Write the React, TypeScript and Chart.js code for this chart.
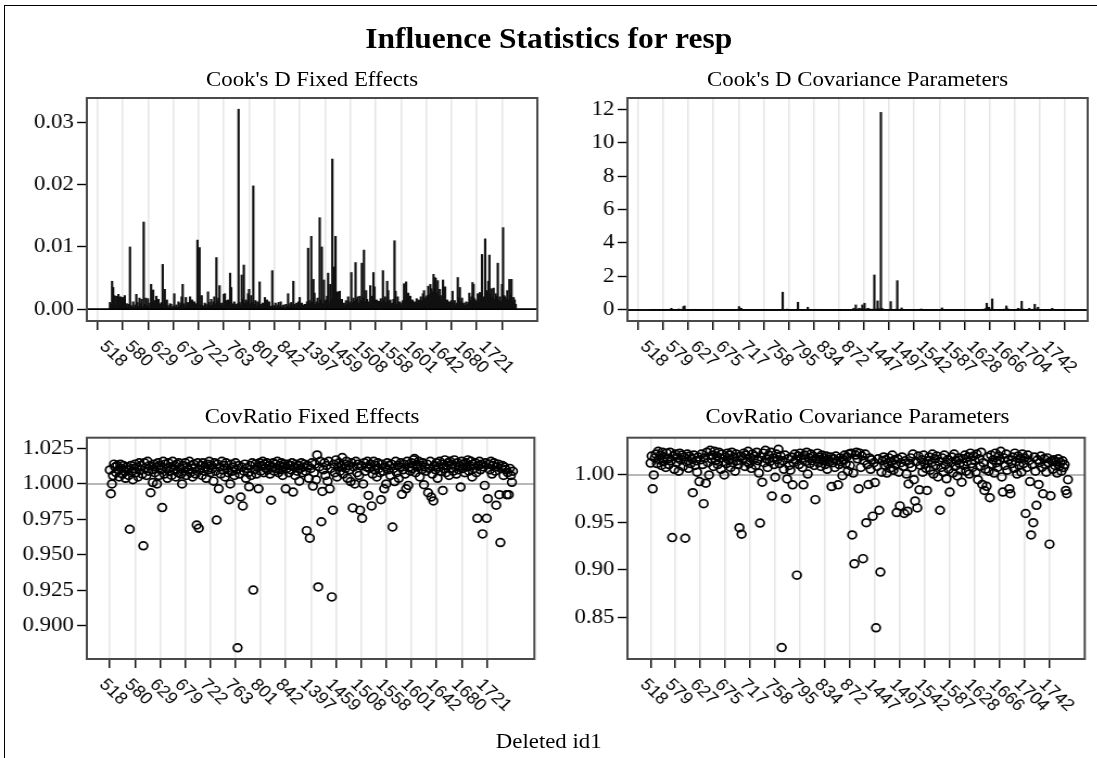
import React, { useEffect, useRef } from 'react';
import { Chart, registerables } from 'chart.js';
Chart.register(...registerables);

// ---------------- data (observation order, 386 deleted observations) ----------------
const COOKD_FIXED = [
  0.0011,0.0009,0.0045,0.0035,0.0022,0.0006,0.0021,0.0004,0.0024,0.0012,0.0020,0.0007,0.0019,0.0010,0.0022,0.0005,0.0009,0.0003,0.0008,0.0100,0.0006,0.0004,0.0012,0.0003,
  0.0007,0.0024,0.0011,0.0005,0.0018,0.0009,0.0016,0.0004,0.0140,0.0008,0.0018,0.0006,0.0017,0.0003,0.0010,0.0040,0.0012,0.0031,0.0007,0.0014,0.0021,0.0005,0.0016,0.0009,
  0.0004,0.0011,0.0072,0.0008,0.0032,0.0013,0.0015,0.0006,0.0003,0.0009,0.0008,0.0002,0.0005,0.0025,0.0004,0.0007,0.0003,0.0012,0.0006,0.0010,0.0020,0.0040,0.0009,0.0004,
  0.0019,0.0006,0.0011,0.0003,0.0020,0.0008,0.0015,0.0005,0.0012,0.0009,0.0004,0.0111,0.0010,0.0099,0.0007,0.0022,0.0006,0.0004,0.0010,0.0008,0.0005,0.0028,0.0011,0.0006,
  0.0016,0.0007,0.0012,0.0020,0.0009,0.0083,0.0013,0.0018,0.0038,0.0007,0.0010,0.0005,0.0024,0.0025,0.0008,0.0014,0.0015,0.0010,0.0058,0.0035,0.0009,0.0006,0.0012,0.0008,
  0.0005,0.0009,0.0321,0.0011,0.0007,0.0055,0.0016,0.0071,0.0010,0.0015,0.0012,0.0025,0.0032,0.0009,0.0022,0.0011,0.0198,0.0008,0.0014,0.0006,0.0012,0.0009,0.0044,0.0005,
  0.0008,0.0010,0.0004,0.0019,0.0006,0.0015,0.0007,0.0012,0.0003,0.0005,0.0062,0.0004,0.0006,0.0010,0.0003,0.0007,0.0011,0.0005,0.0012,0.0003,0.0006,0.0007,0.0002,0.0008,
  0.0005,0.0025,0.0004,0.0009,0.0011,0.0006,0.0045,0.0008,0.0003,0.0010,0.0006,0.0012,0.0019,0.0005,0.0010,0.0004,0.0007,0.0008,0.0006,0.0012,0.0098,0.0014,0.0009,0.0117,
  0.0011,0.0048,0.0026,0.0008,0.0012,0.0018,0.0010,0.0147,0.0015,0.0100,0.0009,0.0047,0.0013,0.0015,0.0021,0.0058,0.0011,0.0040,0.0016,0.0241,0.0012,0.0068,0.0117,0.0019,
  0.0028,0.0010,0.0029,0.0007,0.0016,0.0005,0.0010,0.0006,0.0014,0.0008,0.0020,0.0012,0.0009,0.0059,0.0011,0.0018,0.0013,0.0075,0.0016,0.0020,0.0010,0.0021,0.0014,0.0074,
  0.0018,0.0095,0.0012,0.0030,0.0016,0.0012,0.0009,0.0038,0.0014,0.0021,0.0059,0.0036,0.0011,0.0015,0.0008,0.0013,0.0012,0.0017,0.0010,0.0062,0.0014,0.0020,0.0011,0.0045,
  0.0030,0.0013,0.0015,0.0009,0.0010,0.0016,0.0110,0.0029,0.0008,0.0020,0.0011,0.0012,0.0007,0.0010,0.0014,0.0041,0.0016,0.0044,0.0013,0.0026,0.0011,0.0021,0.0009,0.0015,
  0.0010,0.0012,0.0008,0.0017,0.0011,0.0015,0.0013,0.0020,0.0014,0.0025,0.0030,0.0017,0.0020,0.0022,0.0037,0.0024,0.0040,0.0033,0.0028,0.0056,0.0051,0.0050,0.0026,0.0046,
  0.0021,0.0032,0.0015,0.0022,0.0047,0.0018,0.0036,0.0012,0.0015,0.0009,0.0012,0.0008,0.0014,0.0029,0.0010,0.0014,0.0007,0.0010,0.0051,0.0019,0.0035,0.0012,0.0018,0.0009,
  0.0010,0.0006,0.0012,0.0008,0.0011,0.0026,0.0014,0.0020,0.0043,0.0040,0.0017,0.0014,0.0011,0.0025,0.0018,0.0027,0.0015,0.0088,0.0016,0.0020,0.0113,0.0022,0.0030,0.0045,
  0.0087,0.0024,0.0033,0.0019,0.0034,0.0016,0.0025,0.0021,0.0074,0.0015,0.0020,0.0013,0.0040,0.0131,0.0022,0.0020,0.0016,0.0030,0.0015,0.0048,0.0023,0.0048,0.0012,0.0019,0.0015,0.0008,
];

const COOKD_COV = [
  0.01,0.00,0.02,0.01,0.00,0.01,0.00,0.02,0.01,0.00,0.01,0.02,0.00,0.01,0.00,0.01,0.02,0.00,0.01,0.10,0.01,0.00,0.02,0.01,
  0.00,0.01,0.06,0.02,0.01,0.00,0.20,0.24,0.01,0.00,0.02,0.01,0.00,0.01,0.00,0.02,0.01,0.04,0.00,0.01,0.00,0.02,0.01,0.00,
  0.01,0.00,0.02,0.01,0.00,0.01,0.02,0.00,0.01,0.00,0.01,0.02,0.00,0.01,0.00,0.02,0.01,0.00,0.01,0.00,0.02,0.01,0.00,0.01,
  0.00,0.01,0.02,0.00,0.01,0.00,0.02,0.01,0.03,0.20,0.02,0.10,0.01,0.00,0.02,0.01,0.00,0.01,0.00,0.02,0.01,0.00,0.01,0.02,
  0.00,0.01,0.00,0.02,0.01,0.00,0.01,0.02,0.00,0.01,0.00,0.01,0.02,0.00,0.01,0.00,0.02,0.01,0.00,0.01,0.02,0.00,0.01,0.00,
  0.02,1.06,0.03,0.01,0.02,0.05,0.01,0.00,0.02,0.01,0.00,0.01,0.02,0.00,0.01,0.46,0.02,0.01,0.00,0.01,0.00,0.02,0.01,0.00,
  0.16,0.02,0.01,0.00,0.01,0.00,0.02,0.01,0.04,0.00,0.01,0.00,0.01,0.00,0.00,0.01,0.00,0.00,0.01,0.00,0.00,0.01,0.00,0.00,
  0.01,0.00,0.00,0.01,0.00,0.00,0.01,0.00,0.00,0.01,0.00,0.01,0.00,0.00,0.01,0.02,0.03,0.02,0.10,0.04,0.30,0.05,0.03,0.10,
  0.04,0.08,0.30,0.06,0.40,0.05,0.04,0.10,0.08,0.03,0.02,0.05,0.04,2.09,0.06,0.03,0.54,0.08,0.04,11.8,0.10,0.05,0.03,0.02,
  0.03,0.02,0.04,0.03,0.50,0.04,0.02,0.03,0.02,0.05,1.75,0.03,0.02,0.04,0.12,0.03,0.02,0.01,0.02,0.01,0.00,0.02,0.01,0.00,
  0.01,0.02,0.00,0.01,0.02,0.01,0.00,0.02,0.06,0.01,0.00,0.02,0.01,0.00,0.01,0.02,0.00,0.01,0.02,0.00,0.01,0.00,0.02,0.01,
  0.00,0.02,0.03,0.12,0.02,0.01,0.00,0.01,0.02,0.00,0.01,0.00,0.02,0.01,0.00,0.01,0.00,0.02,0.01,0.00,0.01,0.00,0.01,0.02,
  0.01,0.00,0.01,0.00,0.02,0.01,0.00,0.01,0.00,0.01,0.02,0.00,0.01,0.02,0.03,0.02,0.04,0.03,0.05,0.08,0.40,0.06,0.16,0.04,
  0.05,0.66,0.04,0.03,0.02,0.01,0.02,0.01,0.00,0.01,0.02,0.03,0.05,0.02,0.24,0.08,0.03,0.02,0.01,0.02,0.01,0.00,0.01,0.02,
  0.05,0.10,0.03,0.04,0.52,0.06,0.03,0.02,0.01,0.03,0.02,0.10,0.04,0.02,0.03,0.05,0.34,0.06,0.04,0.16,0.03,0.02,0.01,0.02,
  0.01,0.02,0.01,0.00,0.01,0.02,0.01,0.03,0.10,0.02,0.01,0.00,0.01,0.00,0.01,0.00,0.00,0.01,0.00,0.00,0.01,0.00,0.00,0.01,0.00,0.00,
];

const COVRATIO_FIXED = [
  1.0099,0.9931,1.0000,1.0059,1.014,1.012,1.008,1.013,1.010,1.005,1.014,1.011,1.007,1.013,1.009,1.004,1.012,1.010,1.006,0.968,1.013,1.009,1.003,1.011,
  1.014,1.008,1.012,1.005,1.015,1.010,1.013,1.007,0.9563,1.015,1.011,1.006,1.016,1.009,1.013,0.9938,1.010,1.001,1.014,1.008,1.012,1.000,1.015,1.006,
  1.013,1.010,0.9833,1.016,1.007,1.014,1.011,1.004,1.015,1.009,1.012,1.006,1.016,1.010,1.013,1.005,1.014,1.008,1.015,1.011,1.007,1.000,1.013,1.009,
  1.015,1.006,1.012,1.010,1.016,1.008,1.013,1.005,1.014,1.011,1.007,0.971,1.015,0.9687,1.010,1.013,1.006,1.015,1.009,1.012,1.004,1.014,1.010,1.016,
  1.008,1.013,1.011,1.002,1.015,1.009,0.9745,1.014,0.9966,1.012,1.007,1.016,1.010,1.013,1.005,1.015,1.011,1.008,0.9889,1.000,1.014,1.009,1.012,1.006,
  1.015,1.010,0.8842,1.013,1.007,0.9908,1.012,0.9845,1.009,1.014,1.004,1.011,1.008,0.998,1.013,1.006,1.015,0.925,1.010,1.014,1.007,1.012,0.9966,1.015,
  1.009,1.013,1.016,1.008,1.014,1.011,1.015,1.010,1.013,1.007,0.9885,1.012,1.015,1.009,1.014,1.011,1.016,1.008,1.013,1.010,1.015,1.006,1.012,1.014,
  0.9966,1.011,1.014,1.008,1.013,1.010,1.015,0.9943,1.012,1.006,1.014,1.009,1.013,1.002,1.011,1.015,1.008,1.012,1.014,1.009,0.967,1.013,1.004,0.9617,
  1.011,1.015,0.9985,1.008,1.014,1.003,1.0205,0.9272,1.012,1.016,0.9733,0.9947,1.010,1.015,1.006,1.013,1.002,1.016,0.9966,1.011,0.9202,0.9815,1.014,1.008,
  1.017,1.005,1.012,1.015,1.009,1.013,1.0187,1.007,1.014,1.011,1.016,1.004,1.013,1.010,1.0017,1.015,0.9831,1.012,1.000,1.016,1.008,1.014,1.006,0.9815,
  1.013,0.9757,1.000,1.015,1.009,1.012,1.016,0.9919,1.011,1.014,0.9845,1.007,1.016,1.010,1.013,1.005,1.015,1.011,1.008,0.9889,1.014,1.009,0.9966,1.012,
  1.000,1.015,1.010,1.013,1.006,1.014,0.9696,1.011,1.0017,1.016,1.008,1.013,1.004,1.012,1.015,0.9927,1.010,1.014,1.007,0.9966,1.016,0.999,1.012,1.009,
  1.015,1.011,1.017,1.018,1.008,1.014,1.012,1.016,1.005,1.013,1.010,1.015,0.9995,1.012,1.009,1.014,0.9938,1.011,1.016,0.9908,1.007,0.988,1.013,1.010,
  1.015,1.004,1.012,1.016,1.009,1.014,0.9954,1.011,1.017,1.008,1.013,1.015,1.006,1.016,1.011,1.014,1.009,1.017,1.012,1.007,1.015,1.010,1.013,0.9978,
  1.016,1.011,1.014,1.008,1.015,1.012,1.017,1.009,1.013,1.016,1.005,1.014,1.011,1.015,1.008,0.9757,1.013,1.016,1.010,1.014,0.9647,1.012,0.999,1.015,
  0.9757,0.9896,1.014,1.010,1.016,1.007,1.013,1.015,1.009,0.985,1.012,1.014,0.9924,0.9586,1.011,1.013,1.006,1.012,1.010,0.9924,1.008,0.9924,1.011,1.006,1.0012,1.009,
];

const COVRATIO_COV = [
  1.0125,1.020,0.9854,1.000,1.018,1.022,1.012,1.025,1.016,1.021,1.010,1.024,1.014,1.019,1.008,1.023,1.017,1.011,1.024,1.015,0.934,1.020,1.006,1.022,
  1.013,1.018,1.004,1.023,1.016,1.021,1.009,1.019,0.9333,1.014,1.022,1.007,1.020,1.012,1.017,0.9813,1.021,1.010,1.015,1.003,1.019,0.993,1.016,1.022,
  1.011,0.9698,1.018,0.9913,1.024,1.013,1.000,1.026,1.017,1.021,1.009,1.025,1.015,1.020,1.011,1.024,1.018,1.006,1.022,1.014,1.000,1.019,1.012,1.023,
  1.016,1.021,1.008,1.024,1.013,1.019,1.004,1.022,1.015,1.011,0.9444,1.020,0.9375,1.017,1.023,1.009,1.021,1.014,1.025,1.012,1.018,1.007,1.022,1.016,
  1.020,1.010,1.024,1.015,1.002,0.9493,1.019,0.9924,1.023,1.013,1.026,1.017,1.008,1.021,1.014,1.024,0.9778,1.018,1.011,0.9976,1.022,1.016,1.027,1.012,
  1.020,0.818,1.015,1.006,1.021,0.975,0.9958,1.017,1.010,1.005,1.019,0.9896,1.013,1.022,1.016,0.8944,1.020,1.011,1.023,1.017,1.008,0.9896,1.021,1.014,
  1.024,1.001,1.018,1.012,1.022,1.015,1.020,1.010,0.974,1.017,1.023,1.013,1.019,1.009,1.021,1.015,1.018,1.011,1.020,1.006,1.016,1.014,1.019,0.9878,
  1.013,1.017,1.008,1.020,1.015,0.9896,1.011,1.018,1.014,0.9993,1.016,1.021,1.012,1.019,1.004,1.022,1.010,1.023,0.9368,1.002,0.9063,1.021,1.024,1.017,
  0.9854,1.023,1.008,1.020,0.9118,1.015,1.022,0.9497,1.011,0.9899,1.018,1.006,1.016,0.9566,1.013,0.992,0.8389,1.009,1.017,0.9628,0.8976,1.003,1.015,1.019,
  1.010,1.016,1.002,1.012,1.018,1.007,1.014,1.021,1.005,1.016,1.011,0.9604,1.017,1.003,0.9674,1.013,1.019,1.009,0.9594,1.015,1.001,0.9618,0.9906,1.012,
  1.018,1.008,1.022,0.995,0.9726,1.014,0.9653,1.020,0.9844,1.010,1.016,1.003,1.021,1.012,1.007,0.9837,1.015,1.019,1.005,1.013,1.022,1.001,1.017,1.010,
  1.020,0.998,1.014,0.9628,1.008,1.018,1.003,1.021,1.011,0.996,1.016,1.006,0.982,1.013,1.019,1.002,1.022,1.009,1.015,0.999,1.018,1.012,1.005,0.9924,
  1.017,1.010,1.021,1.004,1.014,1.019,1.001,1.023,1.012,1.008,1.020,1.015,1.003,1.022,0.995,1.017,1.009,1.024,0.990,1.013,0.9837,1.006,0.988,1.019,
  1.004,0.976,1.021,1.011,1.016,1.002,1.023,1.013,1.008,1.020,1.015,1.025,0.998,0.982,1.018,1.010,1.022,1.005,1.016,0.9854,0.9802,1.012,1.019,1.007,
  1.023,1.014,1.001,1.020,1.010,1.017,1.003,1.022,1.012,1.018,0.9594,1.008,1.021,1.015,0.993,0.9368,1.011,0.9497,1.019,1.004,0.968,1.016,0.990,1.013,
  1.020,1.008,0.9802,1.017,1.011,1.003,1.018,1.013,0.9271,0.978,1.015,1.006,1.016,1.010,1.014,1.002,1.017,1.009,1.013,1.004,1.015,1.008,1.011,0.9837,0.9802,0.9951,
];

// tick labels (Deleted id1), shown every LEFT_TICK_STEP / RIGHT_TICK_STEP observations
const LEFT_TICK_LABELS = ['518','580','629','679','722','763','801','842','1397','1459','1508','1558','1601','1642','1680','1721'];
const RIGHT_TICK_LABELS = ['518','579','627','675','717','758','795','834','872','1447','1497','1542','1587','1628','1666','1704','1742'];
const LEFT_TICK_STEP = 24;
const RIGHT_TICK_STEP = 23;

const COOKD_FIXED_YTICKS = [0, 0.01, 0.02, 0.03];
const COOKD_COV_YTICKS = [0, 2, 4, 6, 8, 10, 12];
const COVRATIO_FIXED_YTICKS = [0.9, 0.925, 0.95, 0.975, 1.0, 1.025];
const COVRATIO_COV_YTICKS = [0.85, 0.9, 0.95, 1.0];

// ---------------- styling / layout ----------------
const SERIF = "'Liberation Serif', 'Times New Roman', serif";
const SANS = "'Liberation Sans', Arial, sans-serif";
const STRETCH = 1.0855;
const YW = 80;
const XH = 62;
const PAD = 3;

type PanelProps = {
  kind: 'bar' | 'scatter';
  values: number[];
  yTicks: number[];
  yDigits: number;
  yMin: number;
  yMax: number;
  refValue: number;
  refColor: string;
  tickLabels: string[];
  tickStep: number;
  xMin: number;
  xMax: number;
  left: number;
  top: number;
  width: number;
  height: number;
};

function Panel(p: PanelProps) {
  const ref = useRef<HTMLCanvasElement | null>(null);
  const cw = YW + p.width + PAD;
  const ch = PAD + p.height + XH;

  useEffect(() => {
    if (!ref.current) return;
    const frameRef = {
      id: 'frameRef',
      beforeDatasetsDraw(chart: any) {
        const { ctx, chartArea, scales } = chart;
        const y = scales.y.getPixelForValue(p.refValue);
        ctx.save();
        ctx.strokeStyle = p.refColor;
        ctx.lineWidth = 1.4;
        ctx.beginPath();
        ctx.moveTo(chartArea.left, y);
        ctx.lineTo(chartArea.right, y);
        ctx.stroke();
        ctx.restore();
      },
      afterDatasetsDraw(chart: any) {
        const { ctx, chartArea, scales } = chart;
        ctx.save();
        if (p.kind === 'bar') {
          const y = scales.y.getPixelForValue(p.refValue);
          ctx.strokeStyle = p.refColor;
          ctx.lineWidth = 1.4;
          ctx.beginPath();
          ctx.moveTo(chartArea.left, y);
          ctx.lineTo(chartArea.right, y);
          ctx.stroke();
        }
        ctx.strokeStyle = '#4a4a4a';
        ctx.lineWidth = 2;
        ctx.strokeRect(chartArea.left, chartArea.top, chartArea.right - chartArea.left, chartArea.bottom - chartArea.top);
        ctx.restore();
      },
      afterDraw(chart: any) {
        const { ctx, chartArea, scales } = chart;
        const xs = scales.x;
        ctx.save();
        ctx.fillStyle = '#000';
        ctx.font = `17px ${SANS}`;
        ctx.textAlign = 'left';
        ctx.textBaseline = 'middle';
        p.tickLabels.forEach((lab, j) => {
          const px = xs.getPixelForValue(j * p.tickStep);
          ctx.save();
          ctx.translate(px - 7, chartArea.bottom + 9 + 14);
          ctx.rotate(Math.PI / 4);
          ctx.fillText(lab, 0, 0);
          ctx.restore();
        });
        ctx.restore();
      },
    };

    const data = p.values.map((v, i) => ({ x: i, y: v }));
    const dataset: any =
      p.kind === 'bar'
        ? { data, backgroundColor: '#111', borderWidth: 0, barThickness: 1.5 }
        : {
            data,
            showLine: false,
            pointRadius: 3.9,
            pointBorderWidth: 1.7,
            pointBackgroundColor: 'rgba(0,0,0,0)',
            pointBorderColor: '#000',
            borderColor: '#000',
          };

    const chart = new Chart(ref.current, {
      type: p.kind,
      data: { datasets: [dataset] },
      options: {
        animation: false,
        responsive: false,
        events: [],
        layout: { padding: { top: PAD, right: PAD, left: 0, bottom: 0 } },
        plugins: { legend: { display: false }, tooltip: { enabled: false }, title: { display: false } },
        scales: {
          x: {
            type: 'linear',
            offset: false,
            min: p.xMin,
            max: p.xMax,
            border: { display: false },
            grid: {
              display: true,
              drawOnChartArea: true,
              color: '#e6e6e6',
              lineWidth: 1.5,
              drawTicks: true,
              tickLength: 9,
              tickColor: '#000',
              tickWidth: 1.4,
            },
            ticks: { display: false },
            afterBuildTicks: (scale: any) => {
              scale.ticks = p.tickLabels.map((_, j) => ({ value: j * p.tickStep }));
            },
            afterFit: (scale: any) => {
              scale.height = XH;
              scale.paddingLeft = 0;
              scale.paddingRight = 0;
              scale.paddingTop = 0;
              scale.paddingBottom = 0;
            },
          },
          y: {
            type: 'linear',
            min: p.yMin,
            max: p.yMax,
            border: { display: false },
            grid: {
              drawOnChartArea: false,
              drawTicks: true,
              tickLength: 9,
              tickColor: '#000',
              tickWidth: 1.4,
            },
            ticks: {
              color: '#000',
              padding: 3,
              font: { family: SERIF, size: 21 },
              callback: (v: any) => Number(v).toFixed(p.yDigits),
            },
            afterBuildTicks: (scale: any) => {
              scale.ticks = p.yTicks.map((v) => ({ value: v }));
            },
            afterFit: (scale: any) => {
              scale.width = YW;
              scale.paddingLeft = 0;
              scale.paddingRight = 0;
              scale.paddingTop = 0;
              scale.paddingBottom = 0;
            },
          },
        },
      } as any,
      plugins: [frameRef],
    });
    return () => chart.destroy();
  }, []);

  return (
    <canvas
      ref={ref}
      width={cw}
      height={ch}
      style={{ position: 'absolute', left: p.left - YW, top: p.top - PAD, width: cw, height: ch }}
    />
  );
}

const L_LEFT = 80;
const L_W = 415;
const R_LEFT = 578;
const R_W = 424;
const T_TOP = 98;
const T_H = 223;
const B_TOP = 435;
const B_H = 224;

const subStyle = (left: number, width: number, top: number): React.CSSProperties => ({
  position: 'absolute',
  left,
  width,
  top,
  textAlign: 'center',
  font: `21px ${SERIF}`,
  lineHeight: '21px',
  color: '#000',
  whiteSpace: 'nowrap',
});

export default function App() {
  return (
    <div style={{ position: 'absolute', left: 0, top: 0, width: 1097, height: 758, overflow: 'hidden', background: '#fff' }}>
      <div
        style={{
          position: 'absolute',
          left: 4,
          top: 5,
          width: 1300,
          height: 1000,
          border: '1px solid #000',
          boxSizing: 'border-box',
        }}
      />
      <div
        style={{
          position: 'absolute',
          left: 0,
          top: 0,
          width: 1011,
          height: 758,
          transform: `scaleX(${STRETCH})`,
          transformOrigin: '0 0',
        }}
      >
        <div
          style={{
            position: 'absolute',
            left: 0,
            width: 1011,
            top: 24,
            textAlign: 'center',
            font: `bold 29px ${SERIF}`,
            lineHeight: '29px',
            color: '#000',
          }}
        >
          Influence Statistics for resp
        </div>
        <div style={subStyle(L_LEFT, L_W, 69)}>Cook's D Fixed Effects</div>
        <div style={subStyle(R_LEFT, R_W, 69)}>Cook's D Covariance Parameters</div>
        <div style={subStyle(L_LEFT, L_W, 406)}>CovRatio Fixed Effects</div>
        <div style={subStyle(R_LEFT, R_W, 406)}>CovRatio Covariance Parameters</div>
        <div style={subStyle(0, 1011, 731)}>Deleted id1</div>

        <Panel
          kind="bar"
          values={COOKD_FIXED}
          yTicks={COOKD_FIXED_YTICKS}
          yDigits={2}
          yMin={-0.00188}
          yMax={0.0339}
          refValue={0}
          refColor="#000"
          tickLabels={LEFT_TICK_LABELS}
          tickStep={LEFT_TICK_STEP}
          xMin={-21.94}
          xMax={405.5}
          left={L_LEFT}
          top={T_TOP}
          width={L_W}
          height={T_H}
        />
        <Panel
          kind="bar"
          values={COOKD_COV}
          yTicks={COOKD_COV_YTICKS}
          yDigits={0}
          yMin={-0.66}
          yMax={12.66}
          refValue={0}
          refColor="#000"
          tickLabels={RIGHT_TICK_LABELS}
          tickStep={RIGHT_TICK_STEP}
          xMin={-21.29}
          xMax={400.5}
          left={R_LEFT}
          top={T_TOP}
          width={R_W}
          height={T_H}
        />
        <Panel
          kind="scatter"
          values={COVRATIO_FIXED}
          yTicks={COVRATIO_FIXED_YTICKS}
          yDigits={3}
          yMin={0.8763}
          yMax={1.0327}
          refValue={1}
          refColor="#a0a0a0"
          tickLabels={LEFT_TICK_LABELS}
          tickStep={LEFT_TICK_STEP}
          xMin={-21.94}
          xMax={405.5}
          left={L_LEFT}
          top={B_TOP}
          width={L_W}
          height={B_H}
        />
        <Panel
          kind="scatter"
          values={COVRATIO_COV}
          yTicks={COVRATIO_COV_YTICKS}
          yDigits={2}
          yMin={0.806}
          yMax={1.0393}
          refValue={1}
          refColor="#a0a0a0"
          tickLabels={RIGHT_TICK_LABELS}
          tickStep={RIGHT_TICK_STEP}
          xMin={-21.29}
          xMax={400.5}
          left={R_LEFT}
          top={B_TOP}
          width={R_W}
          height={B_H}
        />
      </div>
    </div>
  );
}
